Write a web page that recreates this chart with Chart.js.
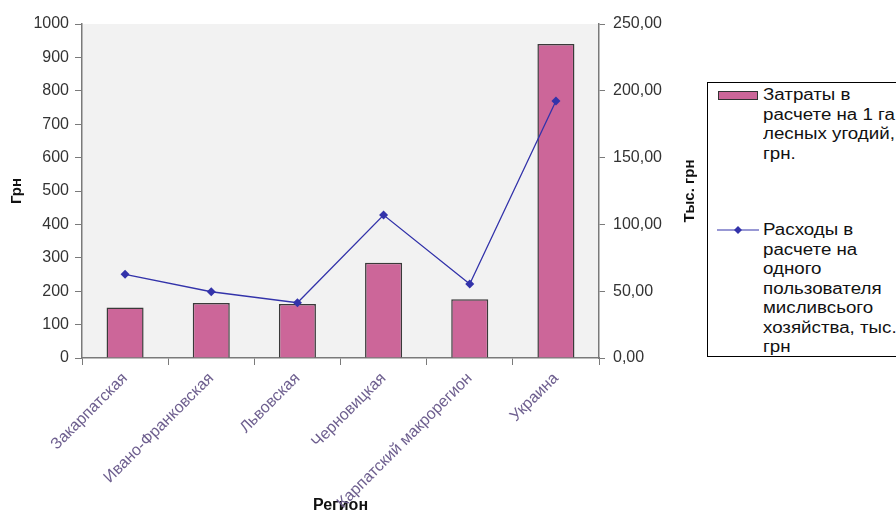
<!DOCTYPE html>
<html>
<head>
<meta charset="utf-8">
<script src="https://cdn.jsdelivr.net/npm/chart.js@4"></script>
<style>
  html, body { margin: 0; padding: 0; background: #fff; overflow: hidden; }
  #wrap { position: relative; width: 896px; height: 515px; }
  #legend {
    position: absolute; left: 707px; top: 82px; width: 210px; height: 275px;
    border: 1px solid #000; box-sizing: border-box; background: #fff;
    font-family: 'Liberation Sans', Arial, sans-serif; font-size: 16px; line-height: 19.5px; color: #111;
  }
  .item { position: absolute; left: 10px; white-space: nowrap; }
  .txt { display: inline-block; margin-left: 45px; transform: scaleX(1.17); transform-origin: left top; }
  .mark { position: absolute; left: 0; top: 6px; }
</style>
</head>
<body>
<div id="wrap">
  <canvas id="chart" width="896" height="515"></canvas>
  <div id="legend">
    <div class="item" style="top:2px">
      <div class="mark" style="width:38px;height:7px;background:#cc6699;border:1px solid #333;"></div>
      <div class="txt">Затраты в<br>расчете на 1 га<br>лесных угодий,<br>грн.</div>
    </div>
    <div class="item" style="top:137px">
      <svg class="mark" width="42" height="10" style="top:5px;left:-1px"><line x1="0" y1="5" x2="42" y2="5" stroke="#3333aa" stroke-width="1.2"/><polygon points="21,1 25,5 21,9 17,5" fill="#3333aa"/></svg>
      <div class="txt">Расходы в<br>расчете на<br>одного<br>пользователя<br>мисливсього<br>хозяйства, тыс.<br>грн</div>
    </div>
  </div>
</div>
<script>
// categories and values
const regions = ['Закарпатская', 'Ивано-Франковская', 'Львовская', 'Черновицкая', 'Карпатский макрорегион', 'Украина'];
const costs = [151, 165, 162, 285, 176, 940];          // Грн, left axis
const expenses = [62.6, 49.6, 41.4, 107, 55.4, 192.4]; // тыс. грн, right axis
const leftTicks = [0, 100, 200, 300, 400, 500, 600, 700, 800, 900, 1000];
const rightTicks = [0, 50, 100, 150, 200, 250];

const FONT = "'Liberation Sans', Arial, sans-serif";
const PAD_LEFT = 4;

// grey plot area + right axis title (reads bottom to top)
const plotBg = {
  id: 'plotBg',
  beforeDraw(chart) {
    const a = chart.chartArea, ctx = chart.ctx;
    ctx.save();
    ctx.fillStyle = '#f2f2f2';
    ctx.fillRect(a.left, a.top, a.right - a.left, a.bottom - a.top);
    ctx.restore();
  },
  afterDraw(chart) {
    const a = chart.chartArea, ctx = chart.ctx;
    ctx.save();
    ctx.translate(690, (a.top + a.bottom) / 2);
    ctx.rotate(-Math.PI / 2);
    ctx.font = 'bold 15px ' + FONT;
    ctx.fillStyle = '#111';
    ctx.textAlign = 'center';
    ctx.textBaseline = 'middle';
    ctx.fillText('Тыс. грн', 0, 0);
    ctx.restore();
  }
};

const CHART = document.getElementById('chart');
let comboChart = new Chart(CHART, {
  type: 'bar',
  data: {
    labels: regions,
    datasets: [
      {
        type: 'line',
        label: 'Расходы',
        data: expenses,
        yAxisID: 'y1',
        order: 0,
        borderColor: '#3333aa',
        backgroundColor: '#3333aa',
        borderWidth: 1.3,
        tension: 0,
        pointStyle: 'rectRot',
        pointRadius: 4.5,
        pointBorderWidth: 0,
        pointBackgroundColor: '#3333aa'
      },
      {
        type: 'bar',
        label: 'Затраты',
        data: costs,
        yAxisID: 'y',
        order: 1,
        backgroundColor: '#cc6699',
        borderColor: '#3a3a3a',
        borderWidth: 1.5,
        barPercentage: 0.43,
        categoryPercentage: 1
      }
    ]
  },
  options: {
    responsive: false,
    animation: false,
    layout: { padding: { left: PAD_LEFT, top: 24, right: 196, bottom: 0 } },
    plugins: { legend: { display: false }, tooltip: { enabled: false } },
    scales: {
      x: {
        offset: true,
        grid: { offset: true, drawOnChartArea: false, tickLength: 7, color: '#7a7a7a' },
        border: { color: '#7a7a7a', width: 1.5 },
        ticks: {
          autoSkip: false, minRotation: 45, maxRotation: 45, padding: 4,
          color: '#6e5f8f', font: { family: FONT, size: 16 }
        },
        title: {
          display: true, text: 'Регион', color: '#111',
          font: { family: FONT, size: 16, weight: 'bold' }, padding: { top: 0, bottom: 0 }
        },
        afterFit(s) { s.height = 157; }
      },
      y: {
        position: 'left',
        min: 0, max: 1000,
        afterBuildTicks(s) { s.ticks = leftTicks.map(v => ({ value: v })); },
        grid: { drawOnChartArea: false, tickLength: 7, color: '#7a7a7a' },
        border: { color: '#7a7a7a', width: 1.5 },
        ticks: { color: '#333', padding: 6, font: { family: FONT, size: 16 }, callback: v => String(v) },
        title: {
          display: true, text: 'Грн', color: '#111',
          font: { family: FONT, size: 15, weight: 'bold' }, padding: { top: 4, bottom: 0 }
        },
        afterFit(s) { s.width = 82 - PAD_LEFT; }
      },
      y1: {
        position: 'right',
        min: 0, max: 250,
        afterBuildTicks(s) { s.ticks = rightTicks.map(v => ({ value: v })); },
        grid: { drawOnChartArea: false, tickLength: 6, color: '#7a7a7a' },
        border: { color: '#7a7a7a', width: 1.5 },
        ticks: {
          color: '#333', padding: 8, font: { family: FONT, size: 16 },
          callback: v => v.toFixed(2).replace('.', ',')
        },
        afterFit(s) { s.width = 101; }
      }
    }
  },
  plugins: [plotBg]
});
</script>
</body>
</html>
